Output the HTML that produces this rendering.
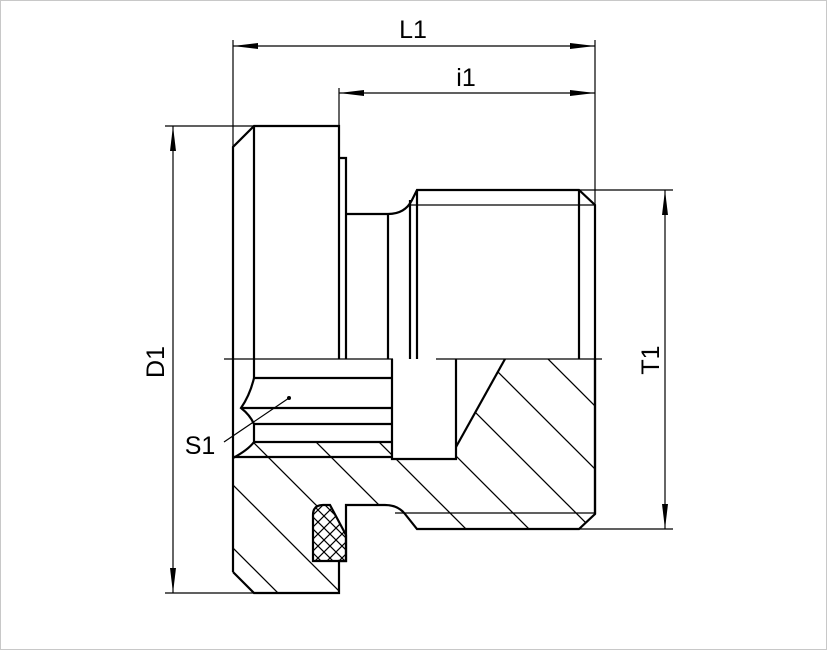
<!DOCTYPE html>
<html><head><meta charset="utf-8"><style>
html,body{margin:0;padding:0;background:#fff}
svg{display:block}
text{font-family:"Liberation Sans",sans-serif;font-size:25px;fill:#000}
</style></head><body>
<svg width="827" height="650" viewBox="0 0 827 650" xmlns="http://www.w3.org/2000/svg">
<defs>
<pattern id="h" patternUnits="userSpaceOnUse" width="63" height="63">
<path d="M-10,-10 L73,73 M-73,-10 L10,73 M53,-10 L136,73" stroke="#000" stroke-width="1.3"/>
</pattern>
<pattern id="x" patternUnits="userSpaceOnUse" width="12" height="12">
<path d="M-2,-2 L14,14 M14,-2 L-2,14 M10,-2 L14,2 M-2,10 L2,14" stroke="#000" stroke-width="1.2"/>
</pattern>
<clipPath id="c1"><path d="M233,458 L254,443 L392,443 L392,459 L456,459 L456,447 L505,359 L595,359 L595,514 L579,529 L417,529 L405,514 Q395,505 385,505 L339,505 L339,593 L254,593 L233,572 Z"/></clipPath>
</defs>
<rect x="0.5" y="0.5" width="826" height="649" fill="#fff" stroke="#c8c8c8"/>
<rect x="225" y="355" width="380" height="245" fill="url(#h)" clip-path="url(#c1)"/>
<path d="M313,561 L313,515 Q313,505 323,505 L330,505 L346,535 L346,561 Z" fill="#fff"/>
<path d="M313,561 L313,515 Q313,505 323,505 L330,505 L346,535 L346,561 Z" fill="url(#x)" stroke="#000" stroke-width="2.2"/>
<g fill="none" stroke="#000" stroke-width="2.2" stroke-linejoin="miter">
<path d="M233,572 L233,147 L254,126 L339,126 L339,359"/>
<line x1="254" y1="126" x2="254" y2="359"/>
<path d="M339,158 L346,158 L346,359"/>
<path d="M346,214 L388,214 Q405,214 412,200 L417,190 L579,190 L595,205 L595,514 L579,529 L417,529 L405,514 Q398,505 385,505 L346,505 L346,561 L339,561 L339,593 L254,593 L233,572"/>
<line x1="388" y1="214" x2="388" y2="359"/>
<line x1="410" y1="200" x2="410" y2="359"/>
<line x1="417" y1="190" x2="417" y2="359"/>
<line x1="579" y1="190" x2="579" y2="359"/>
<line x1="254" y1="378" x2="392" y2="378"/>
<line x1="241" y1="408" x2="392" y2="408"/>
<line x1="254" y1="424" x2="392" y2="424"/>
<line x1="254" y1="442" x2="392" y2="442"/>
<line x1="233" y1="457" x2="392" y2="457"/>
<path d="M254,359 L254,378 Q250,395 241,408 Q250,415 254,424 L254,442 Q248,450 233,458"/>
<path d="M392,359 L392,459 L456,459 L456,359"/>
<line x1="456" y1="447" x2="505" y2="359"/>
<line x1="595" y1="359" x2="595" y2="514"/>
</g>
<g stroke="#000" stroke-width="1.2" fill="none">
<line x1="410" y1="205" x2="595" y2="205"/>
<line x1="395" y1="513" x2="595" y2="513"/>
<line x1="224" y1="359" x2="393" y2="359"/>
<line x1="436" y1="359" x2="602" y2="359"/>
<line x1="233" y1="40" x2="233" y2="147"/>
<line x1="339" y1="88" x2="339" y2="126"/>
<line x1="595" y1="40" x2="595" y2="205"/>
<line x1="165" y1="126" x2="254" y2="126"/>
<line x1="165" y1="593" x2="254" y2="593"/>
<line x1="579" y1="190" x2="673" y2="190"/>
<line x1="579" y1="529" x2="673" y2="529"/>
<line x1="233" y1="46" x2="595" y2="46"/>
<line x1="339" y1="93" x2="595" y2="93"/>
<line x1="173" y1="126" x2="173" y2="593"/>
<line x1="665" y1="190" x2="665" y2="529"/>
<line x1="224" y1="442" x2="289" y2="398"/>
</g>
<g fill="#000">
<path d="M233,46 L258,43 L258,49 Z"/><path d="M595,46 L570,43 L570,49 Z"/>
<path d="M339,93 L364,90 L364,96 Z"/><path d="M595,93 L570,90 L570,96 Z"/>
<path d="M173,126 L170,151 L176,151 Z"/><path d="M173,593 L170,568 L176,568 Z"/>
<path d="M665,190 L662,215 L668,215 Z"/><path d="M665,529 L662,504 L668,504 Z"/>
<circle cx="289" cy="398" r="2"/>
</g>
<text x="413" y="38" text-anchor="middle">L1</text>
<text x="466" y="86" text-anchor="middle">i1</text>
<text x="200" y="454" text-anchor="middle">S1</text>
<text transform="translate(164,362) rotate(-90)" text-anchor="middle">D1</text>
<text transform="translate(659,360) rotate(-90)" text-anchor="middle">T1</text>
</svg>
</body></html>
